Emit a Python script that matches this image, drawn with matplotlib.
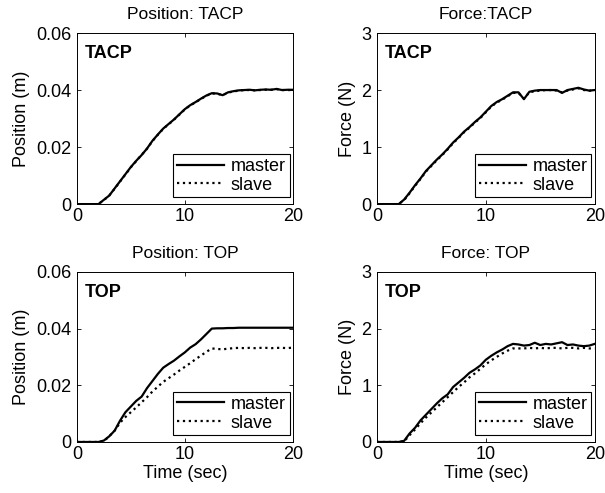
import matplotlib
matplotlib.use("Agg")
import matplotlib.pyplot as plt

plt.rcParams['font.family'] = ['Liberation Sans', 'DejaVu Sans']

# time axis (sec), 0.5 s steps
t = [i * 0.5 for i in range(41)]

# Position: TACP
pos_tacp_master = [0, 0, 0, 0, 0, 0.0015, 0.003, 0.0055, 0.008, 0.0105,
                   0.013, 0.0152, 0.0172, 0.0195, 0.0222, 0.0244, 0.0265, 0.0281, 0.0297, 0.0315,
                   0.0333, 0.0347, 0.0358, 0.0370, 0.0381, 0.0389, 0.0388, 0.0382, 0.0392, 0.0396,
                   0.0399, 0.0400, 0.0401, 0.0399, 0.0401, 0.0402, 0.0401, 0.0404, 0.0400, 0.0401,
                   0.0401]
pos_tacp_slave = [0, 0, 0, 0, 0, 0.0014, 0.003, 0.0054, 0.0079, 0.0104,
                  0.0129, 0.0151, 0.0173, 0.0194, 0.0221, 0.0243, 0.0264, 0.0280, 0.0296, 0.0314,
                  0.0332, 0.0346, 0.0357, 0.0369, 0.0380, 0.0388, 0.0387, 0.0382, 0.0391, 0.0395,
                  0.0398, 0.0400, 0.0400, 0.0399, 0.0400, 0.0401, 0.0401, 0.0403, 0.0400, 0.0400,
                  0.0400]

# Force: TACP
force_tacp_master = [0, 0, 0, 0, 0, 0.08, 0.2, 0.33, 0.45, 0.58,
                     0.68, 0.78, 0.87, 0.97, 1.08, 1.17, 1.27, 1.35, 1.44, 1.52,
                     1.62, 1.72, 1.79, 1.84, 1.90, 1.96, 1.96, 1.84, 1.97, 1.99,
                     2.0, 2.0, 2.0, 2.0, 1.95, 2.0, 2.02, 2.04, 2.01, 1.99,
                     2.0]
force_tacp_slave = [0, 0, 0, 0, 0, 0.07, 0.19, 0.32, 0.44, 0.57,
                    0.67, 0.77, 0.86, 0.96, 1.07, 1.16, 1.26, 1.34, 1.43, 1.51,
                    1.61, 1.71, 1.78, 1.83, 1.89, 1.95, 1.95, 1.85, 1.96, 1.98,
                    1.99, 2.0, 2.0, 1.99, 1.96, 1.99, 2.01, 2.03, 2.0, 1.99,
                    1.99]

# Position: TOP
pos_top_master = [0, 0, 0, 0, 0, 0.0005, 0.002, 0.004, 0.0075, 0.0105,
                  0.0125, 0.0145, 0.016, 0.019, 0.0215, 0.024, 0.0262, 0.0275, 0.0287, 0.0302,
                  0.0316, 0.0333, 0.0345, 0.0362, 0.0381, 0.0400, 0.0401, 0.0401, 0.0402, 0.0402,
                  0.0403, 0.0403, 0.0403, 0.0403, 0.0403, 0.0403, 0.0403, 0.0403, 0.0403, 0.0403,
                  0.0403]
pos_top_slave = [0, 0, 0, 0, 0, 0.0003, 0.002, 0.004, 0.0068, 0.0088,
                 0.0105, 0.0122, 0.014, 0.0158, 0.0178, 0.0195, 0.0212, 0.0225, 0.0238, 0.0252,
                 0.0265, 0.0278, 0.0292, 0.0305, 0.0318, 0.0330, 0.0328, 0.0327, 0.0329, 0.0331,
                 0.0332, 0.0331, 0.0332, 0.0331, 0.0332, 0.0332, 0.0331, 0.0332, 0.0332, 0.0331,
                 0.0333]

# Force: TOP
force_top_master = [0, 0, 0, 0, 0, 0.02, 0.15, 0.25, 0.38, 0.48,
                    0.58, 0.68, 0.77, 0.84, 0.97, 1.05, 1.13, 1.22, 1.28, 1.35,
                    1.45, 1.52, 1.58, 1.63, 1.69, 1.73, 1.72, 1.70, 1.71, 1.75,
                    1.71, 1.73, 1.72, 1.74, 1.76, 1.71, 1.72, 1.70, 1.69, 1.70,
                    1.73]
force_top_slave = [0, 0, 0, 0, 0, 0.01, 0.12, 0.22, 0.33, 0.43,
                   0.52, 0.61, 0.70, 0.79, 0.88, 0.97, 1.05, 1.14, 1.21, 1.29,
                   1.37, 1.44, 1.50, 1.56, 1.61, 1.65, 1.65, 1.65, 1.66, 1.65,
                   1.66, 1.65, 1.66, 1.66, 1.65, 1.66, 1.66, 1.65, 1.66, 1.65,
                   1.65]

panels = [
    ([0.127, 0.586, 0.357, 0.347], pos_tacp_master, pos_tacp_slave, 'Position: TACP',
     'Position (m)', 'TACP', 0.06, [0, 0.02, 0.04, 0.06], ['0', '0.02', '0.04', '0.06'], False),
    ([0.623, 0.586, 0.360, 0.347], force_tacp_master, force_tacp_slave, 'Force:TACP',
     'Force (N)', 'TACP', 3, [0, 1, 2, 3], ['0', '1', '2', '3'], False),
    ([0.127, 0.1035, 0.357, 0.345], pos_top_master, pos_top_slave, 'Position: TOP',
     'Position (m)', 'TOP', 0.06, [0, 0.02, 0.04, 0.06], ['0', '0.02', '0.04', '0.06'], True),
    ([0.623, 0.1035, 0.360, 0.345], force_top_master, force_top_slave, 'Force: TOP',
     'Force (N)', 'TOP', 3, [0, 1, 2, 3], ['0', '1', '2', '3'], True),
]

fig = plt.figure(figsize=(6.05, 4.93), dpi=100)

for rect, master, slave, title, ylabel, tag, ymax, yticks, yticklabels, xlab in panels:
    ax = fig.add_axes(rect)
    ax.plot(t, master, '-', color='black', lw=1.6, label='master')
    ax.plot(t, slave, ':', color='black', lw=1.6, label='slave')
    ax.set_xlim(0, 20)
    ax.set_ylim(0, ymax)
    ax.set_xticks([0, 10, 20])
    ax.set_xticklabels(['0', '10', '20'])
    ax.set_yticks(yticks)
    ax.set_yticklabels(yticklabels)
    ax.tick_params(direction='in', length=3, width=0.6, top=True, right=True,
                   labelsize=13)
    ax.tick_params(axis='x', pad=3)
    ax.tick_params(axis='y', pad=4)
    for s in ax.spines.values():
        s.set_linewidth(0.7)
    ax.set_title(title, fontsize=12.5, pad=10)
    ax.set_ylabel(ylabel, fontsize=13, labelpad=4)
    if xlab:
        ax.set_xlabel('Time (sec)', fontsize=13, labelpad=1)
    ax.text(0.035, 0.88, tag, transform=ax.transAxes, fontsize=13,
            fontweight='bold', va='center', ha='left')
    leg = ax.legend(loc='lower right', bbox_to_anchor=(0.985, 0.04), borderaxespad=0,
                    fontsize=13, frameon=True, fancybox=False, framealpha=1,
                    edgecolor='black', handlelength=2.6, handletextpad=0.4,
                    borderpad=0.2, labelspacing=0.1)
    leg.get_frame().set_linewidth(0.8)

fig.savefig('out.png', dpi=100)
